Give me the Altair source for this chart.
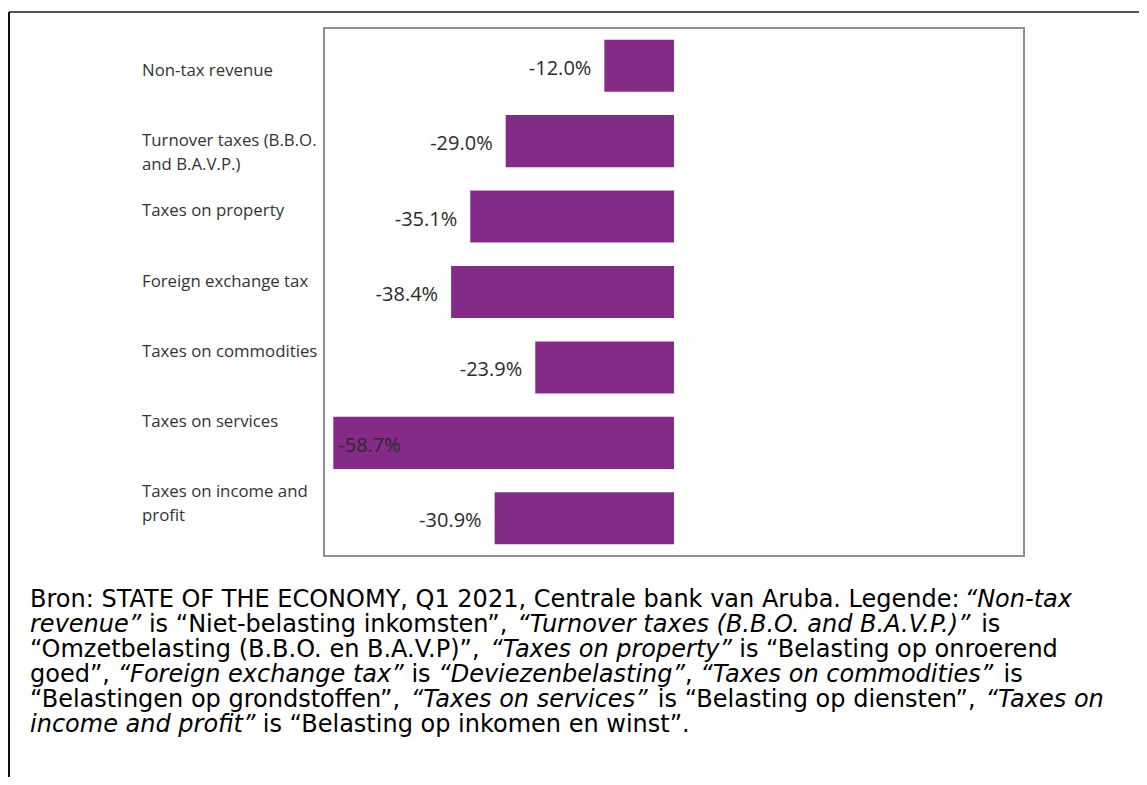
import altair as alt
import pandas as pd

# ---------------- data ----------------
categories = [
    "Non-tax revenue",
    "Turnover taxes (B.B.O. and B.A.V.P.)",
    "Taxes on property",
    "Foreign exchange tax",
    "Taxes on commodities",
    "Taxes on services",
    "Taxes on income and profit",
]
category_labels = [
    "Non-tax revenue",
    "Turnover taxes (B.B.O.|and B.A.V.P.)",
    "Taxes on property",
    "Foreign exchange tax",
    "Taxes on commodities",
    "Taxes on services",
    "Taxes on income and|profit",
]
values = [-12.0, -29.0, -35.1, -38.4, -23.9, -58.7, -30.9]

caption_lines = [
    [("Bron: STATE OF THE ECONOMY, Q1 2021, Centrale bank van Aruba. Legende: ", False), ("\u201cNon-tax", True)],
    [("revenue\u201d", True), (" is \u201cNiet-belasting inkomsten\u201d, ", False),
     ("\u201cTurnover taxes (B.B.O. and B.A.V.P.)\u201d", True), (" is", False)],
    [("\u201cOmzetbelasting (B.B.O. en B.A.V.P)\u201d, ", False), ("\u201cTaxes on property\u201d", True),
     (" is \u201cBelasting op onroerend", False)],
    [("goed\u201d, ", False), ("\u201cForeign exchange tax\u201d", True), (" is ", False),
     ("\u201cDeviezenbelasting\u201d", True), (", ", False), ("\u201cTaxes on commodities\u201d", True), (" is", False)],
    [("\u201cBelastingen op grondstoffen\u201d, ", False), ("\u201cTaxes on services\u201d", True),
     (" is \u201cBelasting op diensten\u201d, ", False), ("\u201cTaxes on", True)],
    [("income and profit\u201d", True), (" is \u201cBelasting op inkomen en winst\u201d.", False)],
]

# ---------------- caption layout (DejaVu Sans advance widths, 2048 upm) ----------------
W = {
    " ": 651, "(": 799, ")": 799, ",": 651, "-": 739, ".": 651, ":": 690,
    "A": 1401, "B": 1405, "C": 1430, "D": 1577, "E": 1294, "F": 1178, "G": 1587, "H": 1540,
    "I": 604, "L": 1141, "M": 1767, "N": 1532, "O": 1612, "P": 1235, "Q": 1612, "R": 1423,
    "S": 1300, "T": 1251, "V": 1401, "Y": 1251,
    "a": 1255, "b": 1300, "c": 1126, "d": 1300, "e": 1260, "f": 721, "g": 1300, "h": 1298,
    "i": 569, "j": 569, "k": 1186, "l": 569, "m": 1995, "n": 1298, "o": 1253, "p": 1300,
    "r": 842, "s": 1067, "t": 803, "u": 1298, "v": 1212, "w": 1675, "x": 1212, "y": 1212,
    "z": 1075, "\u201c": 1067, "\u201d": 1067,
}
for d in "0123456789":
    W[d] = 1303
# rough allowance for the browser's kerning pairs
KERN = {
    ("T", "A"): -205, ("A", "T"): -205, ("Y", ","): -205,
    ("T", "u"): -120, ("V", "."): -200, ("P", "."): -200,
    ("t", "y"): -100, ("y", "\u201d"): -150,
}

CAP_SIZE = 24
PLOT_LEFT = 324   # page x of plot area
PLOT_TOP = 28     # page y of plot area


def tw(s):
    u = sum(W.get(ch, 1200) for ch in s)
    u += sum(KERN.get((a, b), 0) for a, b in zip(s, s[1:]))
    return u / 2048.0 * CAP_SIZE


rows = []
for li, segs in enumerate(caption_lines):
    x = 30 - PLOT_LEFT
    y = 607 - PLOT_TOP + 25 * li
    for txt, ital in segs:
        lead = len(txt) - len(txt.lstrip(" "))
        core = txt.strip(" ")
        rows.append({"px": x + tw(txt[:lead]), "py": y, "txt": core, "italic": ital})
        x += tw(txt)
cap_df = pd.DataFrame(rows)

df = pd.DataFrame({
    "category": categories,
    "value": values,
    "label": [f"{v:.1f}%" for v in values],
})
cat_df = pd.DataFrame({"category": categories, "cat_label": category_labels})

# ---------------- chart ----------------
ysc = alt.Scale(paddingInner=0.31, paddingOuter=0.155)
xsc = alt.Scale(domain=[-60.3, 60.3])
base = alt.Chart(df).encode(
    y=alt.Y("category:N", sort=categories, scale=ysc, axis=None)
)
bars = base.mark_bar(color="#842a87").encode(
    x=alt.X("value:Q", scale=xsc, axis=None)
)
lab_out = base.transform_filter("datum.value > -50").mark_text(
    align="right", baseline="middle", dx=-13, dy=3,
    font="Open Sans", fontSize=20, color="#2b2b2b"
).encode(x=alt.X("value:Q", scale=xsc, axis=None), text="label:N")
lab_in = base.transform_filter("datum.value <= -50").mark_text(
    align="left", baseline="middle", dx=5, dy=3,
    font="Open Sans", fontSize=20, color="#2b2b2b"
).encode(x=alt.X("value:Q", scale=xsc, axis=None), text="label:N")
bar_group = alt.layer(bars, lab_out, lab_in)

cat_text = alt.Chart(cat_df).transform_calculate(
    lines="split(datum.cat_label, '|')"
).mark_text(
    align="left", baseline="alphabetic", dy=6, font="Open Sans", fontSize=16.8,
    lineHeight=24, color="#333333"
).encode(
    y=alt.Y("category:N", sort=categories,
            scale=alt.Scale(type="point", padding=0.76, align=0.393), axis=None),
    x=alt.value(142 - PLOT_LEFT),
    text="lines:N",
)

cap_normal = alt.Chart(cap_df).transform_filter("!datum.italic").mark_text(
    align="left", baseline="alphabetic", font="DejaVu Sans", fontSize=CAP_SIZE, color="#000000"
).encode(x=alt.X("px:Q", scale=None), y=alt.Y("py:Q", scale=None), text="txt:N")
cap_italic = alt.Chart(cap_df).transform_filter("datum.italic").mark_text(
    align="left", baseline="alphabetic", font="DejaVu Sans", fontStyle="italic",
    fontSize=CAP_SIZE, color="#000000"
).encode(x=alt.X("px:Q", scale=None), y=alt.Y("py:Q", scale=None), text="txt:N")

one = pd.DataFrame({"k": [0]})
frame_top = alt.Chart(one).mark_rule(color="#555555", strokeWidth=2).encode(
    x=alt.value(9 - PLOT_LEFT), x2=alt.value(1139 - PLOT_LEFT), y=alt.value(12 - PLOT_TOP)
)
frame_left = alt.Chart(one).mark_rule(color="#111111", strokeWidth=2).encode(
    x=alt.value(9 - PLOT_LEFT), y=alt.value(12 - PLOT_TOP), y2=alt.value(777 - PLOT_TOP)
)

chart = alt.layer(
    bar_group, cat_text, cap_normal, cap_italic, frame_top, frame_left
).resolve_scale(x="independent", y="independent").properties(
    width=700, height=528,
    autosize=alt.AutoSizeParams(type="none"),
    padding={"left": PLOT_LEFT - 8, "top": PLOT_TOP - 8, "right": 115, "bottom": 221},
    background="white",
).configure_view(stroke="#8f8f8f", strokeWidth=2)

chart.save("out.html", embed_options={"renderer": "svg", "actions": False})
